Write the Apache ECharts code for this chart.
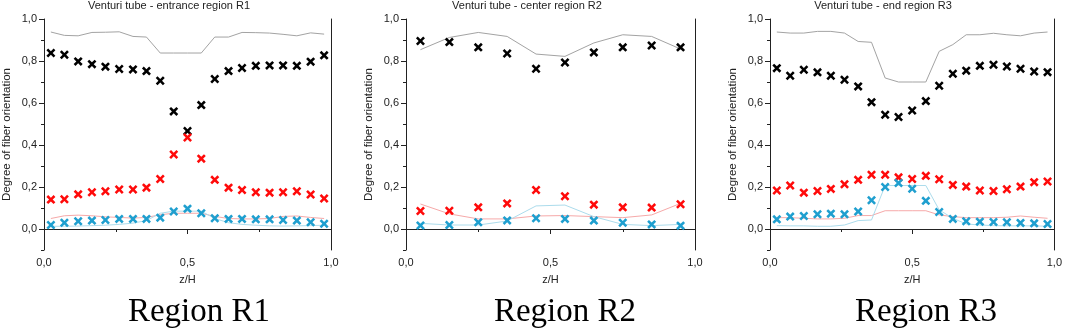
<!DOCTYPE html>
<html lang="en">
<head>
    <meta charset="UTF-8">
    <title>Venturi tube fiber orientation</title>
    <script type="text/javascript" src="https://cdn.jsdelivr.net/npm/echarts@6/dist/echarts.min.js"></script>
    <style>
        html, body { margin: 0; padding: 0; background: #fff; }
    </style>
</head>
<body>
<div id="chart" style="width: 1065px;height:331px;"></div>
<script type="text/javascript">

    // z/H positions of the measurements
    let zR1 = [0.024, 0.071, 0.119, 0.167, 0.214, 0.262, 0.310, 0.357, 0.405, 0.452, 0.500,
        0.548, 0.595, 0.643, 0.690, 0.738, 0.786, 0.833, 0.881, 0.929, 0.976];
    let zR2 = [0.05, 0.15, 0.25, 0.35, 0.45, 0.55, 0.65, 0.75, 0.85, 0.95];
    let zR3 = [0.024, 0.071, 0.119, 0.167, 0.214, 0.262, 0.310, 0.357, 0.405, 0.452, 0.500,
        0.548, 0.595, 0.643, 0.690, 0.738, 0.786, 0.833, 0.881, 0.929, 0.976];

    // region R1 - crosses (measured) and thin lines (simulated)
    let r1Black = [0.838, 0.830, 0.798, 0.785, 0.773, 0.762, 0.760, 0.752, 0.706, 0.560, 0.467,
        0.590, 0.714, 0.752, 0.767, 0.777, 0.779, 0.779, 0.777, 0.797, 0.827];
    let r1Red = [0.140, 0.142, 0.165, 0.175, 0.180, 0.188, 0.188, 0.197, 0.238, 0.355, 0.436,
        0.335, 0.234, 0.197, 0.186, 0.175, 0.173, 0.175, 0.180, 0.164, 0.145];
    let r1Blue = [0.019, 0.030, 0.037, 0.040, 0.043, 0.048, 0.048, 0.048, 0.054, 0.083, 0.097,
        0.075, 0.051, 0.048, 0.048, 0.046, 0.046, 0.043, 0.040, 0.032, 0.025];
    let r1GrayLine = [0.938, 0.922, 0.920, 0.936, 0.937, 0.939, 0.917, 0.914, 0.838, 0.838, 0.838,
        0.838, 0.914, 0.914, 0.936, 0.935, 0.933, 0.927, 0.920, 0.934, 0.928];
    let r1RedLine = [0.050, 0.063, 0.066, 0.063, 0.058, 0.055, 0.052, 0.055, 0.068, 0.075, 0.075,
        0.075, 0.060, 0.050, 0.048, 0.048, 0.050, 0.060, 0.062, 0.055, 0.050];
    let r1BlueLine = [0.013, 0.013, 0.014, 0.016, 0.018, 0.022, 0.028, 0.040, 0.075, 0.085, 0.085,
        0.085, 0.050, 0.030, 0.022, 0.018, 0.015, 0.014, 0.015, 0.016, 0.018];

    // region R2
    let r2Black = [0.895, 0.890, 0.865, 0.836, 0.763, 0.793, 0.841, 0.865, 0.874, 0.865];
    let r2Red = [0.086, 0.087, 0.103, 0.122, 0.186, 0.156, 0.116, 0.103, 0.102, 0.118];
    let r2Blue = [0.017, 0.019, 0.032, 0.041, 0.051, 0.048, 0.040, 0.030, 0.022, 0.016];
    let r2GrayLine = [0.854, 0.912, 0.936, 0.917, 0.833, 0.822, 0.886, 0.925, 0.917, 0.857];
    let r2RedLine = [0.119, 0.072, 0.048, 0.048, 0.062, 0.064, 0.059, 0.054, 0.067, 0.122];
    let r2BlueLine = [0.027, 0.019, 0.019, 0.038, 0.110, 0.114, 0.059, 0.022, 0.016, 0.022];

    // region R3
    let r3Black = [0.766, 0.730, 0.758, 0.746, 0.730, 0.711, 0.679, 0.604, 0.544, 0.533, 0.564,
        0.609, 0.682, 0.739, 0.754, 0.777, 0.782, 0.774, 0.763, 0.750, 0.747];
    let r3Red = [0.183, 0.207, 0.173, 0.181, 0.191, 0.213, 0.234, 0.258, 0.258, 0.246, 0.238,
        0.253, 0.237, 0.210, 0.202, 0.183, 0.181, 0.189, 0.202, 0.223, 0.226];
    let r3Blue = [0.046, 0.059, 0.062, 0.070, 0.073, 0.070, 0.083, 0.137, 0.200, 0.219, 0.192,
        0.134, 0.081, 0.048, 0.037, 0.035, 0.033, 0.032, 0.029, 0.027, 0.024];
    let r3GrayLine = [0.938, 0.933, 0.933, 0.941, 0.941, 0.933, 0.893, 0.889, 0.719, 0.700, 0.700,
        0.700, 0.846, 0.878, 0.925, 0.925, 0.932, 0.925, 0.920, 0.933, 0.938];
    let r3RedLine = [0.054, 0.054, 0.051, 0.048, 0.048, 0.051, 0.064, 0.064, 0.087, 0.087, 0.087,
        0.087, 0.067, 0.059, 0.054, 0.054, 0.054, 0.056, 0.062, 0.056, 0.051];
    let r3BlueLine = [0.016, 0.015, 0.015, 0.013, 0.013, 0.019, 0.040, 0.043, 0.207, 0.207, 0.207,
        0.207, 0.091, 0.051, 0.024, 0.019, 0.016, 0.015, 0.015, 0.015, 0.013];

    // ticks
    let yTicks = [0, 0.2, 0.4, 0.6, 0.8, 1.0];
    let yMinorTicks = [-0.1, 0.1, 0.3, 0.5, 0.7, 0.9];
    let xTicks = [0, 0.5, 1.0];
    let xMinorTicks = [0.25, 0.75];

    let titles = ['Venturi tube - entrance region R1', 'Venturi tube - center region R2', 'Venturi tube - end region R3'];
    let regionLabels = ['Region R1', 'Region R2', 'Region R3'];

    let panels = [
        {z: zR1, black: r1Black, red: r1Red, blue: r1Blue, gray: r1GrayLine, redLine: r1RedLine, blueLine: r1BlueLine},
        {z: zR2, black: r2Black, red: r2Red, blue: r2Blue, gray: r2GrayLine, redLine: r2RedLine, blueLine: r2BlueLine},
        {z: zR3, black: r3Black, red: r3Red, blue: r3Blue, gray: r3GrayLine, redLine: r3RedLine, blueLine: r3BlueLine}
    ];

    // layout of the three plots
    let gridBoxes = [
        {left: 43, top: 19, width: 288, height: 231},
        {left: 406, top: 19, width: 289, height: 231},
        {left: 770, top: 19, width: 288, height: 231}
    ];
    let titleX = [169, 527, 883];
    let regionX = [199, 565, 926];

    let font = '"Liberation Sans", Arial, sans-serif';
    let axisColor = '#222';
    let cross = 'path://M2,0L5,3L8,0L10,2L7,5L10,8L8,10L5,7L2,10L0,8L3,5L0,2Z';

    function zip(xs, ys) {
        return xs.map((x, i) => [x, ys[i]]);
    }

    function comma(v) {
        return v.toFixed(1).replace('.', ',');
    }

    let grid = [], xAxis = [], yAxis = [], series = [], graphic = [];

    panels.forEach(function (p, i) {
        grid.push(gridBoxes[i]);

        // main x axis
        xAxis.push({
            gridIndex: i, type: 'value', position: 'bottom', min: 0, max: 1,
            name: 'z/H', nameLocation: 'middle', nameGap: 24,
            nameTextStyle: {color: axisColor, fontSize: 11, fontFamily: font},
            axisLine: {show: true, lineStyle: {color: axisColor, width: 1}},
            axisTick: {show: true, length: 5, customValues: xTicks, lineStyle: {color: axisColor}},
            axisLabel: {customValues: xTicks, formatter: comma, color: axisColor, fontSize: 11, fontFamily: font, margin: 7},
            splitLine: {show: false}
        });
        // minor x ticks
        xAxis.push({
            gridIndex: i, type: 'value', position: 'bottom', min: 0, max: 1,
            axisLine: {show: false},
            axisTick: {show: true, length: 3, customValues: xMinorTicks, lineStyle: {color: axisColor}},
            axisLabel: {show: false},
            splitLine: {show: false}
        });

        // main y axis
        yAxis.push({
            gridIndex: i, type: 'value', position: 'left', min: -0.1, max: 1.0,
            name: 'Degree of fiber orientation', nameLocation: 'middle', nameGap: 31,
            nameTextStyle: {color: axisColor, fontSize: 11.5, fontFamily: font},
            axisLine: {show: true, lineStyle: {color: axisColor, width: 1}},
            axisTick: {show: true, length: 5, customValues: yTicks, lineStyle: {color: axisColor}},
            axisLabel: {customValues: yTicks, formatter: comma, color: axisColor, fontSize: 11, fontFamily: font, margin: 7},
            splitLine: {show: false}
        });
        // minor y ticks
        yAxis.push({
            gridIndex: i, type: 'value', position: 'left', min: -0.1, max: 1.0,
            axisLine: {show: false},
            axisTick: {show: true, length: 3, customValues: yMinorTicks, lineStyle: {color: axisColor}},
            axisLabel: {show: false},
            splitLine: {show: false}
        });
        // right frame line
        yAxis.push({
            gridIndex: i, type: 'value', position: 'right', min: -0.1, max: 1.0,
            axisLine: {show: true, lineStyle: {color: axisColor, width: 1}},
            axisTick: {show: false},
            axisLabel: {show: false},
            splitLine: {show: false}
        });

        let xi = i * 2, yi = i * 3;
        let lines = [
            [p.gray, '#a3a3a3'],
            [p.redLine, '#f6a9a9'],
            [p.blueLine, '#acdcec']
        ];
        lines.forEach(function (l) {
            series.push({
                type: 'line', xAxisIndex: xi, yAxisIndex: yi, z: 1,
                data: zip(p.z, l[0]), symbol: 'none', silent: true,
                lineStyle: {color: l[1], width: 1}
            });
        });
        let marks = [
            [p.black, '#000000'],
            [p.red, '#ff0a0a'],
            [p.blue, '#1f9fcf']
        ];
        marks.forEach(function (m) {
            series.push({
                type: 'scatter', xAxisIndex: xi, yAxisIndex: yi, z: 3,
                data: zip(p.z, m[0]), symbol: cross, symbolSize: 9,
                itemStyle: {color: m[1], opacity: 1}
            });
        });

        graphic.push({
            type: 'text', x: titleX[i], y: 6,
            style: {
                text: titles[i], fill: axisColor, font: '11px ' + font,
                align: 'center', verticalAlign: 'middle', textAlign: 'center', textVerticalAlign: 'middle'
            }
        });
        graphic.push({
            type: 'text', x: regionX[i], y: 312,
            style: {
                text: regionLabels[i], fill: '#000', font: '33px "Liberation Serif", "Times New Roman", serif',
                align: 'center', verticalAlign: 'middle', textAlign: 'center', textVerticalAlign: 'middle'
            }
        });
    });

    let option = {
        backgroundColor: '#ffffff',
        animation: false,
        grid: grid,
        xAxis: xAxis,
        yAxis: yAxis,
        series: series,
        graphic: graphic
    };
    echarts.init(document.getElementById('chart')).setOption(option);
</script>
</body>
</html>
